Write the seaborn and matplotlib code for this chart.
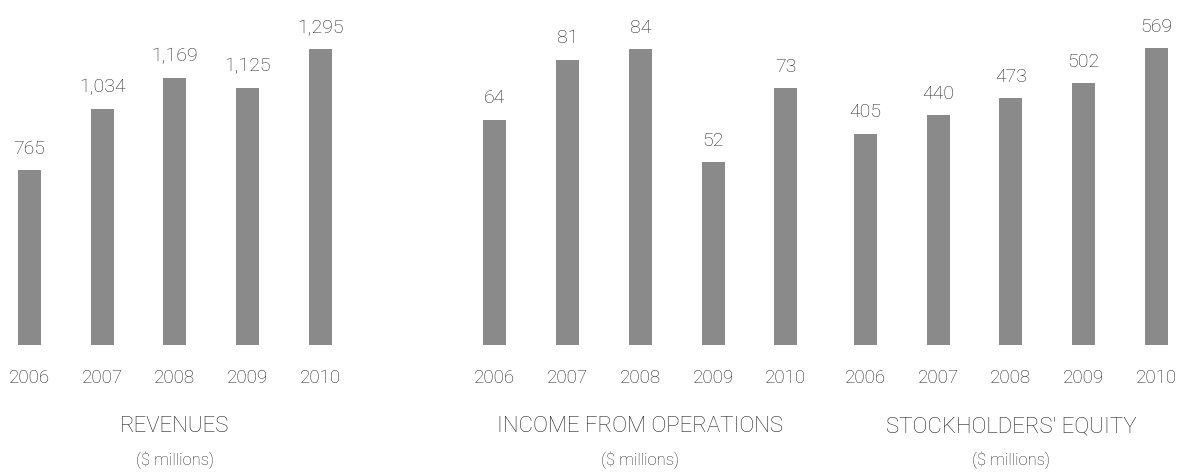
import matplotlib
matplotlib.use("Agg")
import matplotlib.pyplot as plt
import seaborn as sns
import pandas as pd

# Five-year financial highlights
years = ["2006", "2007", "2008", "2009", "2010"]
revenues = [765, 1034, 1169, 1125, 1295]
income_ops = [64, 81, 84, 52, 73]
equity = [405, 440, 473, 502, 569]

titles = ["REVENUES", "INCOME FROM OPERATIONS", "STOCKHOLDERS' EQUITY"]
subtitle = "($ millions)"

sns.set_theme(style="white")
plt.rcParams["font.family"] = ["Roboto", "DejaVu Sans"]

BAR = "#8a8a8a"
TXT = "#262626"

W, H = 1183, 475
fig = plt.figure(figsize=(W / 100, H / 100), dpi=100)

# (values, left edge px, category step px, y-axis top)
panels = [
    (revenues, 7.6, 72.75, 1467),
    (income_ops, 473.0, 72.75, 95.2),
    (equity, 843.5, 72.75, 642),
]

ax_bottom_px = 345
ax_top_px = 10

for (vals, left_px, step_px, ytop), title in zip(panels, titles):
    width_px = 4.6 * step_px
    ax = fig.add_axes([left_px / W, 1 - ax_bottom_px / H,
                       width_px / W, (ax_bottom_px - ax_top_px) / H])
    df = pd.DataFrame({"year": years, "value": vals})
    sns.barplot(data=df, x="year", y="value", ax=ax, color=BAR,
                saturation=1, width=0.315, edgecolor="none")
    ax.set_xlim(-0.3, 4.3)
    ax.set_ylim(0, ytop)
    labels = [f"{v:,}" for v in vals]
    ax.bar_label(ax.containers[0], labels=labels, padding=9,
                 fontsize=14, color=TXT, fontweight="light")
    ax.set_xlabel("")
    ax.set_ylabel("")
    ax.set_yticks([])
    ax.tick_params(axis="x", length=0, pad=17, labelsize=13.5, colors=TXT)
    for lab in ax.get_xticklabels():
        lab.set_fontweight("light")
    for s in ax.spines.values():
        s.set_visible(False)
    cx = (left_px + 0.3 * step_px + 2 * step_px) / W
    fig.text(cx, 1 - 427 / H, title, ha="center", va="center",
             fontsize=16, color=TXT, fontweight="light")
    fig.text(cx, 1 - 460 / H, subtitle, ha="center", va="center",
             fontsize=12, color=TXT, fontweight="light")

fig.savefig("out.png", dpi=100, facecolor="white")
